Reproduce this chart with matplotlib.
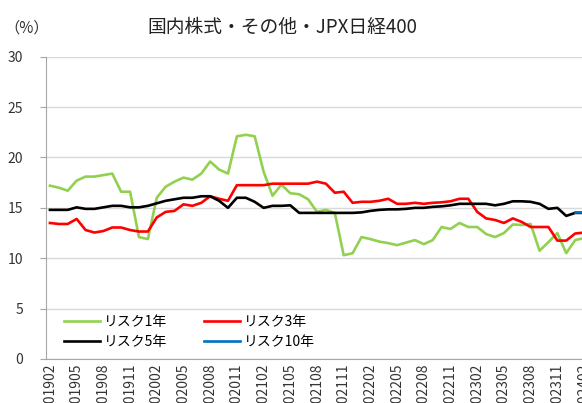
import numpy as np
import matplotlib
matplotlib.use('Agg')
import matplotlib.pyplot as plt

plt.rcParams['font.family'] = ['Noto Sans CJK JP', 'DejaVu Sans']

# monthly labels 2019/02 .. 2024/02
months = []
for yy in range(2019, 2025):
    for mm in range(1, 13):
        if (yy == 2019 and mm < 2) or (yy == 2024 and mm > 2):
            continue
        months.append('%d%02d' % (yy, mm))

risk1 = [17.2, 17.0, 16.7, 17.7, 18.1, 18.1, 18.25, 18.4, 16.6, 16.6,
         12.1, 11.9, 16.0, 17.1, 17.6, 18.0, 17.8, 18.4, 19.6, 18.8,
         18.4, 22.1, 22.25, 22.1, 18.6, 16.2, 17.3, 16.45, 16.35, 15.85,
         14.6, 14.8, 14.5, 10.3, 10.5, 12.1, 11.9, 11.65, 11.5, 11.3,
         11.55, 11.8, 11.4, 11.8, 13.1, 12.9, 13.5, 13.1, 13.1, 12.4,
         12.1, 12.5, 13.35, 13.3, 13.4, 10.75, 11.6, 12.5, 10.5, 11.8,
         12.0]
risk3 = [13.5, 13.4, 13.4, 13.9, 12.8, 12.55, 12.7, 13.05, 13.05, 12.8,
         12.65, 12.65, 14.05, 14.6, 14.7, 15.35, 15.2, 15.5, 16.15, 15.9,
         15.7, 17.25, 17.25, 17.25, 17.25, 17.4, 17.4, 17.4, 17.4, 17.4,
         17.6, 17.4, 16.5, 16.6, 15.5, 15.6, 15.6, 15.7, 15.9, 15.4,
         15.4, 15.5, 15.4, 15.5, 15.55, 15.65, 15.9, 15.9, 14.6, 13.95,
         13.8, 13.5, 13.95, 13.6, 13.1, 13.1, 13.1, 11.75, 11.75, 12.45,
         12.55]
risk5 = [14.8, 14.8, 14.8, 15.05, 14.9, 14.9, 15.05, 15.2, 15.2, 15.05,
         15.05, 15.2, 15.45, 15.7, 15.85, 16.0, 16.0, 16.15, 16.15, 15.7,
         15.0, 16.0, 16.0, 15.6, 15.0, 15.2, 15.2, 15.25, 14.5, 14.5,
         14.5, 14.5, 14.5, 14.5, 14.5, 14.55, 14.7, 14.8, 14.85, 14.85,
         14.9, 15.0, 15.0, 15.1, 15.15, 15.25, 15.4, 15.4, 15.4, 15.4,
         15.25, 15.4, 15.65, 15.65, 15.6, 15.4, 14.9, 15.0, 14.2, 14.5,
         14.5]
risk10 = [np.nan] * 59 + [14.6, 14.6]

x = np.arange(len(months))

fig = plt.figure(figsize=(5.82, 4.03), dpi=100)
W, H = 582.0, 403.0
ax = fig.add_axes([45.5 / W, 44 / H, 543 / W, 302.3 / H])

l1, = ax.plot(x, risk1, color='#92d050', lw=1.9, label='リスク1年')
l3, = ax.plot(x, risk3, color='#ff0000', lw=1.9, label='リスク3年')
l5, = ax.plot(x, risk5, color='#000000', lw=1.9, label='リスク5年')
l10, = ax.plot(x, risk10, color='#0070c0', lw=1.9, label='リスク10年')

ax.set_xlim(-0.5, len(months) - 0.5)
ax.set_ylim(0, 30)
ax.set_yticks(range(0, 31, 5))
ax.set_xticks(x[::3])
ax.set_xticklabels(months[::3], rotation=90, fontsize=10, color='#333333')
ax.tick_params(axis='x', length=0, pad=3)
ax.tick_params(axis='y', length=4, color='#a6a6a6', labelsize=10,
               labelcolor='#333333', pad=12)
ax.grid(axis='y', color='#d9d9d9', lw=1)
ax.set_axisbelow(True)
for s in ['top', 'right']:
    ax.spines[s].set_visible(False)
ax.spines['left'].set_color('#a6a6a6')
ax.spines['bottom'].set_color('#a6a6a6')

fig.text(282.5 / W, 1 - 27 / H, '国内株式・その他・JPX日経400', ha='center',
         va='center', fontsize=13.5, color='#222222')
fig.text(4 / W, 1 - 28 / H, '（%）', ha='left', va='center', fontsize=11,
         color='#333333')

leg = fig.legend([l1, l5, l3, l10], ['リスク1年', 'リスク5年', 'リスク3年', 'リスク10年'],
                 ncol=2, loc='upper left', bbox_to_anchor=(64 / W, 1 - 315 / H),
                 frameon=False, fontsize=10, handlelength=2.6,
                 handletextpad=0.3, columnspacing=2.6, labelspacing=0.45,
                 borderpad=0, borderaxespad=0)

fig.savefig('out.png', dpi=100)
